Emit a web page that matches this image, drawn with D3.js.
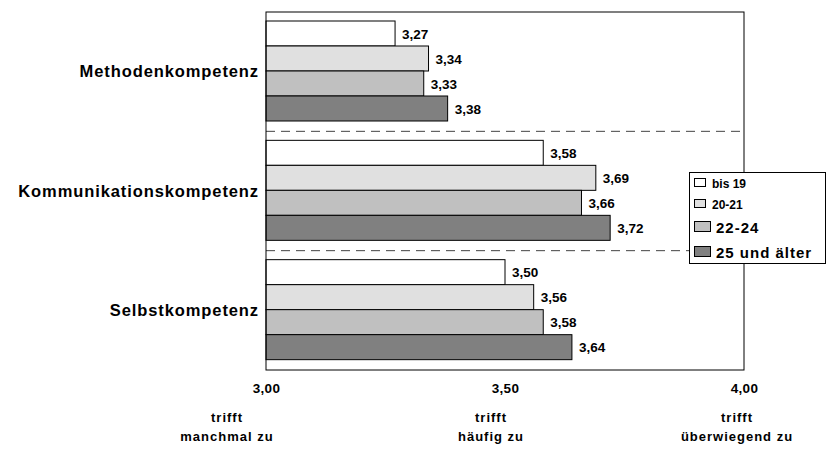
<!DOCTYPE html>
<html>
<head>
<meta charset="utf-8">
<script src="https://cdn.jsdelivr.net/npm/d3@7"></script>
<style>
  body { margin: 0; background: #fff; }
  svg text { font-family: "Liberation Sans", Arial, sans-serif; font-weight: bold; fill: #000; }
</style>
</head>
<body>
<div id="chart"></div>
<script>
// data
const categories = ['Methodenkompetenz', 'Kommunikationskompetenz', 'Selbstkompetenz'];
const series = ['bis 19', '20-21', '22-24', '25 und älter'];
const valuesBis19 = [3.27, 3.58, 3.50];
const values2021 = [3.34, 3.69, 3.56];
const values2224 = [3.33, 3.66, 3.58];
const values25 = [3.38, 3.72, 3.64];
const xTicks = [3.0, 3.5, 4.0];
const scaleLabels = [['trifft', 'manchmal zu'], ['trifft', 'häufig zu'], ['trifft', 'überwiegend zu']];

const seriesValues = [valuesBis19, values2021, values2224, values25];
const colors = ['#ffffff', '#e0e0e0', '#c0c0c0', '#808080'];

const width = 827, height = 449;
const plot = { left: 266, right: 744, top: 12, bottom: 370 };

const locale = d3.formatLocale({ decimal: ',', thousands: '.', grouping: [3], currency: ['', ' €'] });
const fmt = locale.format('.2f');

const svg = d3.select('#chart').append('svg')
  .attr('width', width)
  .attr('height', height);

const x = d3.scaleLinear().domain([3, 4]).range([plot.left, plot.right]);
const y = d3.scaleBand().domain(categories).range([plot.top, plot.bottom]);
const yInner = d3.scaleBand().domain(series).range([9, 109]);

const rows = [];
categories.forEach((c, i) => {
  series.forEach((s, j) => {
    rows.push({ cat: c, ser: s, value: seriesValues[j][i], color: colors[j] });
  });
});

// bars
svg.append('g').selectAll('rect')
  .data(rows)
  .join('rect')
  .attr('x', x(3))
  .attr('y', (d) => y(d.cat) + yInner(d.ser))
  .attr('width', (d) => x(d.value) - x(3))
  .attr('height', yInner.bandwidth())
  .attr('fill', (d) => d.color)
  .attr('stroke', '#000')
  .attr('stroke-width', 1);

// value labels
svg.append('g').selectAll('text')
  .data(rows)
  .join('text')
  .attr('x', (d) => x(d.value) + 7)
  .attr('y', (d) => y(d.cat) + yInner(d.ser) + yInner.bandwidth() / 2 + 5)
  .attr('font-size', 13.5)
  .text((d) => fmt(d.value));

// dashed separators
svg.append('g').selectAll('line')
  .data(categories.slice(1))
  .join('line')
  .attr('x1', plot.left)
  .attr('x2', plot.right)
  .attr('y1', (d) => y(d))
  .attr('y2', (d) => y(d))
  .attr('stroke', '#444')
  .attr('stroke-dasharray', '9,6');

// frame
svg.append('rect')
  .attr('x', plot.left)
  .attr('y', plot.top)
  .attr('width', plot.right - plot.left)
  .attr('height', plot.bottom - plot.top)
  .attr('fill', 'none')
  .attr('stroke', '#000');

// category axis
const yAxis = svg.append('g')
  .attr('transform', `translate(${plot.left - 7},0)`)
  .call(d3.axisLeft(y).tickSize(0).tickPadding(0));
yAxis.select('.domain').remove();
yAxis.selectAll('text')
  .attr('font-size', 16.5)
  .attr('letter-spacing', 0.9)
  .attr('dy', '0.35em')
  .attr('font-family', null);

// value axis
const xAxis = svg.append('g')
  .attr('transform', `translate(0,${plot.bottom})`)
  .call(d3.axisBottom(x).tickValues(xTicks).tickFormat(fmt).tickSize(0).tickPadding(0));
xAxis.select('.domain').remove();
xAxis.selectAll('text')
  .attr('font-size', 13.5)
  .attr('letter-spacing', 0.3)
  .attr('y', 23)
  .attr('dy', null)
  .attr('font-family', null);

// scale descriptions under ticks
const descX = [227, 491, 737];
const desc = svg.append('g').selectAll('text')
  .data(scaleLabels)
  .join('text')
  .attr('text-anchor', 'middle')
  .attr('font-size', 13)
  .attr('letter-spacing', 1);
desc.append('tspan')
  .attr('x', (d, i) => descX[i])
  .attr('y', 422)
  .text((d) => d[0]);
desc.append('tspan')
  .attr('x', (d, i) => descX[i])
  .attr('y', 441)
  .text((d) => d[1]);

// legend
const legend = svg.append('g');
legend.append('rect')
  .attr('x', 689.5)
  .attr('y', 172.5)
  .attr('width', 136)
  .attr('height', 91)
  .attr('fill', '#fff')
  .attr('stroke', '#000');

const legendRows = [
  { y: 188, size: 12, spacing: 0, sw: 11, sh: 8, tx: 712 },
  { y: 209, size: 12, spacing: 0, sw: 11, sh: 8, tx: 712 },
  { y: 233, size: 15, spacing: 1, sw: 16, sh: 10, tx: 716 },
  { y: 258, size: 15, spacing: 1, sw: 16, sh: 10, tx: 716 },
];
const item = legend.selectAll('g')
  .data(series)
  .join('g');
item.append('rect')
  .attr('x', 694.5)
  .attr('y', (d, i) => legendRows[i].y - 2 - legendRows[i].sh + 0.5)
  .attr('width', (d, i) => legendRows[i].sw)
  .attr('height', (d, i) => legendRows[i].sh)
  .attr('fill', (d, i) => colors[i])
  .attr('stroke', '#000');
item.append('text')
  .attr('x', (d, i) => legendRows[i].tx)
  .attr('y', (d, i) => legendRows[i].y)
  .attr('font-size', (d, i) => legendRows[i].size)
  .attr('letter-spacing', (d, i) => legendRows[i].spacing)
  .text((d) => d);
</script>
</body>
</html>
